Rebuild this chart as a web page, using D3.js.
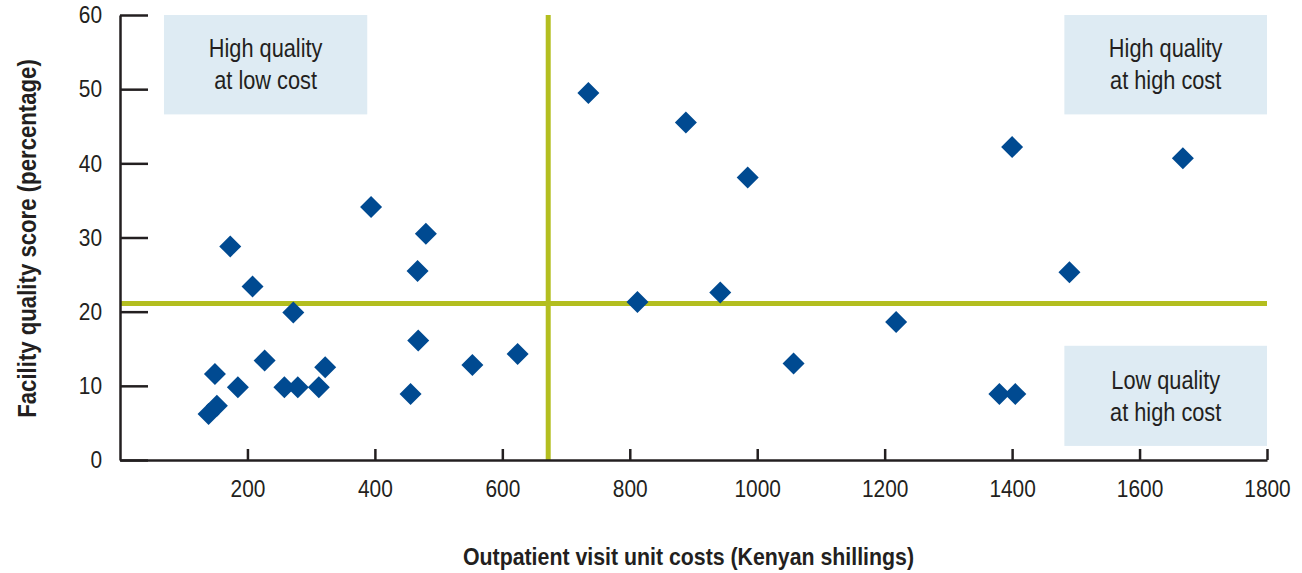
<!DOCTYPE html>
<html>
<head>
<meta charset="utf-8">
<script src="https://cdn.jsdelivr.net/npm/d3@7"></script>
<style>
  body { margin: 0; background: #fff; }
  text { font-family: "Liberation Sans", Arial, sans-serif; fill: #231f20; }
</style>
</head>
<body>
<div id="chart"></div>
<script>
"use strict";

// facility unit cost (KSh) and quality score (%)
const costs  = [139, 152, 149, 173, 185, 208, 227, 258, 272, 279, 312, 322,
                394, 456, 467, 468, 480, 553, 624,
                735, 812, 888, 942, 985, 1057, 1218, 1380, 1400, 1405, 1490, 1668];
const scores = [6.2, 7.3, 11.6, 28.8, 9.8, 23.4, 13.4, 9.8, 19.9, 9.8, 9.8, 12.5,
                34.1, 8.9, 25.5, 16.1, 30.5, 12.8, 14.3,
                49.5, 21.3, 45.5, 22.6, 38.1, 13.0, 18.6, 8.9, 42.2, 8.9, 25.3, 40.7];

const xTicks = [200, 400, 600, 800, 1000, 1200, 1400, 1600, 1800];
const yTicks = [0, 10, 20, 30, 40, 50, 60];

// average lines splitting the quadrants
const avgCost = 672;
const avgScore = 21.1;

// quadrant boxes
const boxLines = [["High quality", "at low cost"], ["High quality", "at high cost"], ["Low quality", "at high cost"]];
const boxCost  = [[69, 388], [1482, 1800], [1482, 1800]];
const boxScore = [[60, 46.6], [60, 46.6], [15.4, 1.9]];

// the original uses a condensed face; squeeze Liberation Sans horizontally
const SX = 0.87;

function init() {
    apply();
};
window.onload = init;

function narrow(sel) {
    sel.each(function() {
        const t = d3.select(this);
        const x0 = +(t.attr("x") || 0);
        t.attr("x", x0 / SX).attr("transform", `scale(${SX},1)`);
    });
}

function apply() {
    const W = 1302, H = 573;
    const margin = {top: 15, right: 35, bottom: 113, left: 120},
    width = W - margin.left - margin.right,
    height = H - margin.top - margin.bottom;

    const svg = d3.select("#chart")
                    .append("svg")
                    .attr("width", W)
                    .attr("height", H)
                    .append("g")
                    .attr("transform", `translate(${margin.left}, ${margin.top})`);

    const x = d3.scaleLinear().domain([0, 1800]).range([0, width]);
    const y = d3.scaleLinear().domain([0, 60]).range([height, 0]);

    // quadrant label boxes
    const boxes = svg.append("g")
        .selectAll("g")
        .data(boxLines)
        .enter().append("g");
    boxes.append("rect")
        .attr("x", (d, i) => x(boxCost[i][0]))
        .attr("width", (d, i) => x(boxCost[i][1]) - x(boxCost[i][0]))
        .attr("y", (d, i) => y(boxScore[i][0]))
        .attr("height", (d, i) => y(boxScore[i][1]) - y(boxScore[i][0]))
        .attr("fill", "#deebf3");
    boxes.each(function(d, i) {
        const cx = (x(boxCost[i][0]) + x(boxCost[i][1])) / 2;
        const cy = (y(boxScore[i][0]) + y(boxScore[i][1])) / 2;
        d3.select(this).selectAll("text")
            .data(d)
            .enter().append("text")
            .attr("x", cx)
            .attr("y", (t, j) => cy + (j - 0.5) * 32)
            .attr("dy", "0.35em")
            .attr("text-anchor", "middle")
            .style("font-size", "25px")
            .text(t => t)
            .call(narrow);
    });

    // average lines
    svg.append("line")
        .attr("x1", 0).attr("x2", width)
        .attr("y1", y(avgScore)).attr("y2", y(avgScore))
        .attr("stroke", "#b3be1f").attr("stroke-width", 5);
    svg.append("line")
        .attr("x1", x(avgCost)).attr("x2", x(avgCost))
        .attr("y1", 0).attr("y2", height)
        .attr("stroke", "#b3be1f").attr("stroke-width", 5);

    // axes
    const yAxis = svg.append("g")
        .call(d3.axisLeft(y).tickValues(yTicks).tickFormat(d3.format("d"))
            .tickSizeInner(-28).tickSizeOuter(0).tickPadding(18));
    const xAxis = svg.append("g")
        .attr("transform", `translate(0, ${height})`)
        .call(d3.axisBottom(x).tickValues(xTicks).tickFormat(d3.format("d"))
            .tickSizeInner(-11).tickSizeOuter(0).tickPadding(20));
    [xAxis, yAxis].forEach(a => {
        a.selectAll("path, line").attr("stroke", "#231f20").attr("stroke-width", 2.5);
        a.selectAll("text").style("font-size", "24px").attr("fill", "#231f20")
            .style("font-family", "'Liberation Sans', Arial, sans-serif")
            .call(narrow);
    });

    // points
    svg.append("g")
        .selectAll("path")
        .data(costs)
        .enter().append("path")
        .attr("transform", (d, i) => `translate(${x(d)}, ${y(scores[i])})`)
        .attr("d", "M0,-11L11,0L0,11L-11,0Z")
        .attr("fill", "#004a91");

    // axis titles
    svg.append("text")
        .attr("x", width / 2 - 5)
        .attr("y", 550)
        .attr("text-anchor", "middle")
        .style("font-size", "24.5px")
        .style("font-weight", "bold")
        .text("Outpatient visit unit costs (Kenyan shillings)")
        .call(narrow);
    svg.append("text")
        .attr("transform", `translate(-93, ${height / 2 + 1}) rotate(-90) scale(${SX},1)`)
        .attr("dy", "0.35em")
        .attr("text-anchor", "middle")
        .style("font-size", "25.5px")
        .style("font-weight", "bold")
        .text("Facility quality score (percentage)");
}
</script>
</body>
</html>
